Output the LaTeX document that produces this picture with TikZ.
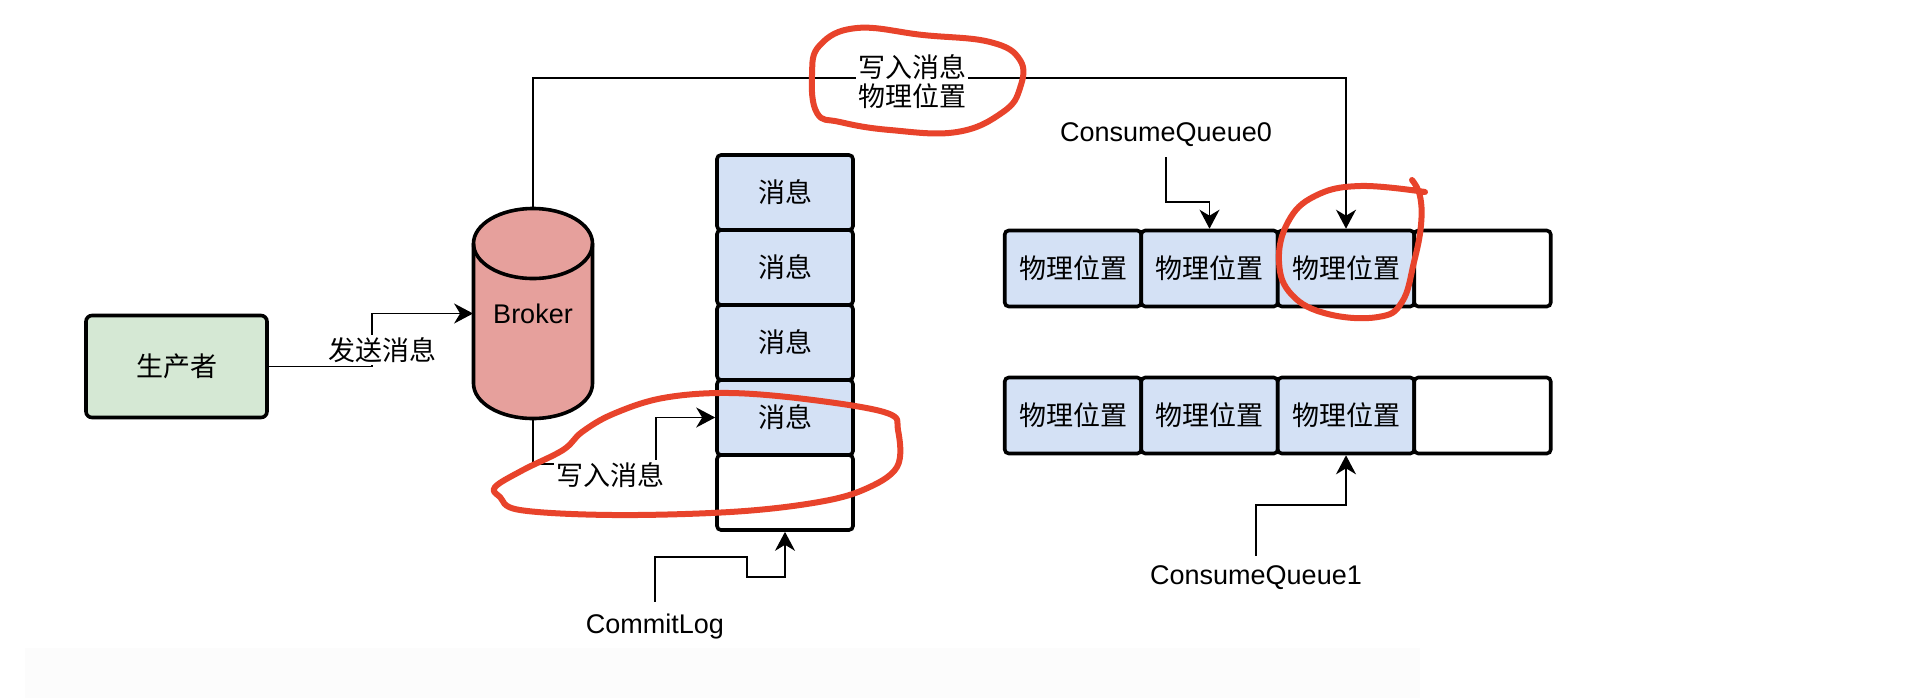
\documentclass[tikz,border=0pt]{standalone}
\usepackage{fontspec}
\setmainfont{Liberation Sans}
\newfontfamily\cjk{Noto Sans CJK SC}
\usetikzlibrary{arrows.meta,calc}
\definecolor{prodfill}{HTML}{D5E8D4}
\definecolor{brokerfill}{HTML}{E6A09C}
\definecolor{cellfill}{HTML}{D4E1F5}
\definecolor{redmark}{HTML}{E8432B}
\definecolor{bandgray}{HTML}{FCFCFC}
\begin{document}
\begin{tikzpicture}[x=0.5pt,y=-0.5pt,
  latin/.style={font=\fontsize{13.5}{16}\selectfont},
  cjkfont/.style={font=\cjk\fontsize{13.5}{14.5}\selectfont},
  box/.style={draw, line width=1.8pt, rounded corners=2pt, inner sep=0pt,
              minimum width=68pt, minimum height=37.5pt, cjkfont},
  msgbox/.style={box, fill=cellfill},
  blankbox/.style={box, fill=white},
  cellbox/.style={box, fill=cellfill, minimum width=68.25pt, minimum height=38pt},
  blankcell/.style={box, fill=white, minimum width=68.25pt, minimum height=38pt},
  conn/.style={line width=0.9pt},
  arr/.style={conn, -{Stealth[length=9.5pt,width=10pt,inset=3pt]}},
  lab/.style={fill=white, inner sep=1pt, cjkfont},
  qlabel/.style={inner sep=0pt, latin},
  redloop/.style={draw=redmark, line width=3pt, line cap=round, line join=round}]
\useasboundingbox (0,0) rectangle (1924,698);
\fill[bandgray] (25,648) rectangle (1420,698);

% producer
\node[draw, line width=1.8pt, rounded corners=3pt, fill=prodfill,
      minimum width=90.5pt, minimum height=51pt, cjkfont] (prod) at (176.5,366.5) {生产者};

% broker cylinder
\fill[brokerfill] (473.5,243.5) -- (473.5,383.5)
  arc[start angle=180,end angle=360,x radius=29.75pt,y radius=17.5pt] -- (592.5,243.5)
  arc[start angle=0,end angle=180,x radius=29.75pt,y radius=17.5pt] -- cycle;
\draw[line width=1.8pt] (473.5,243.5) -- (473.5,383.5)
  arc[start angle=180,end angle=360,x radius=29.75pt,y radius=17.5pt] -- (592.5,243.5);
\draw[line width=1.8pt] (533,243.5) ellipse [x radius=29.75pt, y radius=17.5pt];
\node[inner sep=0pt, minimum width=59.5pt, minimum height=105pt, latin] (broker) at (533,313.5) {Broker};

% commit log
\node[msgbox] (cl1) at (785,192.5) {消息};
\node[msgbox] (cl2) at (785,267.5) {消息};
\node[msgbox] (cl3) at (785,342.5) {消息};
\node[msgbox] (cl4) at (785,417.5) {消息};
\node[blankbox] (cl5) at (785,492.5) {};

% consume queues
\node[cellbox] (q11) at (1073,268.5) {物理位置};
\node[cellbox] (q12) at (1209.5,268.5) {物理位置};
\node[cellbox] (q13) at (1346,268.5) {物理位置};
\node[blankcell] (q14) at (1482.5,268.5) {};
\node[cellbox] (q21) at (1073,415.5) {物理位置};
\node[cellbox] (q22) at (1209.5,415.5) {物理位置};
\node[cellbox] (q23) at (1346,415.5) {物理位置};
\node[blankcell] (q24) at (1482.5,415.5) {};

% labels
\node[qlabel, minimum height=25pt] (lcl) at (655,627) {CommitLog};
\node[qlabel, minimum height=22pt] (lcq0) at (1166,135) {ConsumeQueue0};
\node[qlabel, minimum height=22pt] (lcq1) at (1256,578) {ConsumeQueue1};

% connectors
\draw[arr] (prod.east) -- (372,366.5) |- (broker.west);
\draw[arr] (broker.south) -- (533,464) -- (656,464) |- (cl4.west);
\draw[arr] (broker.north) -- (533,78) -| (q13.north);
\draw[arr] (lcl.north) -- (655,557) -- (747,557) -- (747,577) -| (cl5.south);
\draw[arr] (lcq0.south) -- (1166,202) -| (q12.north);
\draw[arr] (lcq1.north) -- (1256,505) -| (q23.south);

\node[lab] (lsend) at (382,350) {发送消息};
\node[lab] (lwrite) at (610,475) {写入消息};
\node[lab, align=center] (ltop) at (912,82) {写入消息\\物理位置};

% red hand-drawn marks
\draw[redloop] plot[smooth cycle, tension=0.7] coordinates {(817,113) (812,75) (820,45) (857,28) (923,35) (990,42) (1020,60) (1020,88) (1003,112) (957,132) (890,130) (840,122)};
\draw[redloop] plot[smooth, tension=0.7] coordinates {(1425,192) (1360,186) (1315,196) (1288,222) (1279,262) (1292,295) (1328,314) (1378,317) (1402,302) (1414,262) (1421,225) (1420,196) (1412,180)};
\draw[redloop] plot[smooth cycle, tension=0.6] coordinates {(495,487) (523,470) (563,450) (582,432) (613,414) (663,398) (730,393) (813,400) (887,413) (898,430) (897,467) (863,490) (813,503) (730,512) (613,515) (520,510) (500,497)};
\end{tikzpicture}
\end{document}
